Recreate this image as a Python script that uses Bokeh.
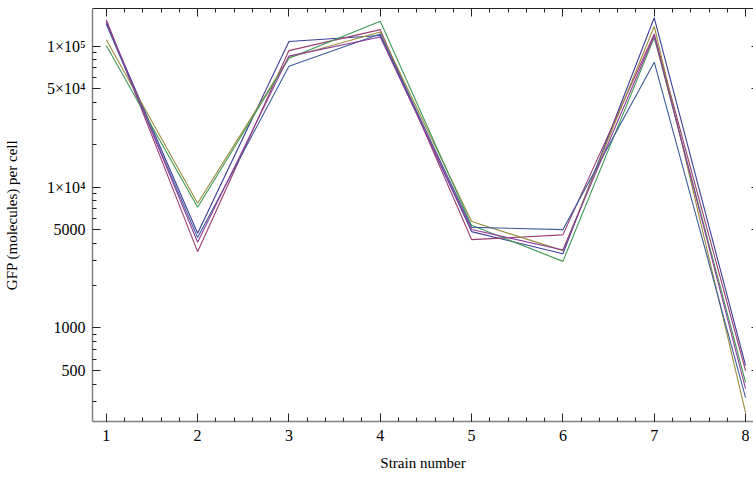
from bokeh.plotting import figure
from bokeh.models import FixedTicker, LinearAxis, LogAxis, Range1d
from bokeh.embed import file_html
from bokeh.resources import INLINE

strains = [1, 2, 3, 4, 5, 6, 7, 8]

series_dark_blue = [147000, 4700, 108000, 119000, 4830, 3360, 159000, 540]
series_magenta = [154000, 3480, 93000, 131000, 4240, 4580, 122000, 498]
series_olive = [111000, 7670, 83000, 126000, 5690, 3540, 138000, 251]
series_green = [101000, 7190, 82000, 150000, 5350, 2970, 115000, 411]
series_blue = [143000, 4380, 72000, 122000, 5180, 4990, 77000, 321]
series_purple = [150000, 4060, 85000, 116000, 5000, 3580, 119000, 371]

x_major = [1, 2, 3, 4, 5, 6, 7, 8]
x_minor = [round(1 + 0.2 * i, 1) for i in range(36)]
y_major = [500, 1000, 5000, 10000, 50000, 100000]
y_major_labels = ["500", "1000", "5000", "1×10⁴", "5×10⁴", "1×10⁵"]
y_minor = [300, 400, 600, 700, 800, 900, 2000, 3000, 4000, 6000, 7000, 8000, 9000,
           20000, 30000, 40000, 60000, 70000, 80000, 90000]

series = [
    (series_dark_blue, "#3D3D99"),
    (series_magenta, "#993D71"),
    (series_olive, "#998C3D"),
    (series_green, "#3D9954"),
    (series_blue, "#3D5C99"),
    (series_purple, "#903D99"),
]

FONT = "Liberation Serif, Times New Roman, serif"

p = figure(width=753, height=477, y_axis_type="log", output_backend="svg",
           toolbar_location=None,
           x_range=Range1d(0.849, 8.087), y_range=Range1d(217, 185000),
           min_border_left=91, min_border_right=0, min_border_top=8, min_border_bottom=56)
p.outline_line_color = None
p.xgrid.visible = False
p.ygrid.visible = False
p.background_fill_color = "white"
p.border_fill_color = "white"

for vals, col in series:
    p.line(strains, vals, line_color=col, line_width=1.1)

def style(ax, line_color, line_width, labels=True):
    ax.axis_line_color = line_color
    ax.axis_line_width = line_width
    ax.major_tick_in = 8
    ax.major_tick_out = 0
    ax.minor_tick_in = 4
    ax.minor_tick_out = 0
    ax.major_tick_line_color = "#222222"
    ax.minor_tick_line_color = "#222222"
    ax.major_label_text_font = FONT
    ax.major_label_text_font_size = "16px"
    ax.major_label_text_color = "black"
    ax.axis_label_text_font = FONT
    ax.axis_label_text_font_size = "15px"
    ax.axis_label_text_font_style = "normal"
    ax.axis_label_text_color = "black"
    if not labels:
        ax.major_label_text_font_size = "0px"
        ax.major_label_standoff = 0

xa = p.xaxis[0]
xa.ticker = FixedTicker(ticks=x_major, minor_ticks=x_minor)
style(xa, "#808080", 1.5)
xa.major_label_standoff = 8
xa.axis_label = "Strain number"
xa.axis_label_standoff = 11

ya = p.yaxis[0]
ya.ticker = FixedTicker(ticks=y_major, minor_ticks=y_minor)
style(ya, "#808080", 1.5)
ya.major_label_overrides = {v: s for v, s in zip(y_major, y_major_labels)}
ya.major_label_standoff = 7
ya.axis_label = "GFP (molecules) per cell"
ya.axis_label_standoff = 24

top = LinearAxis(ticker=FixedTicker(ticks=x_major, minor_ticks=x_minor))
style(top, "#222222", 1, labels=False)
p.add_layout(top, "above")

right = LogAxis(ticker=FixedTicker(ticks=y_major, minor_ticks=[]))
style(right, None, 1, labels=False)
right.major_tick_in = 2
p.add_layout(right, "right")

open("out.html", "w").write(file_html(p, INLINE))
